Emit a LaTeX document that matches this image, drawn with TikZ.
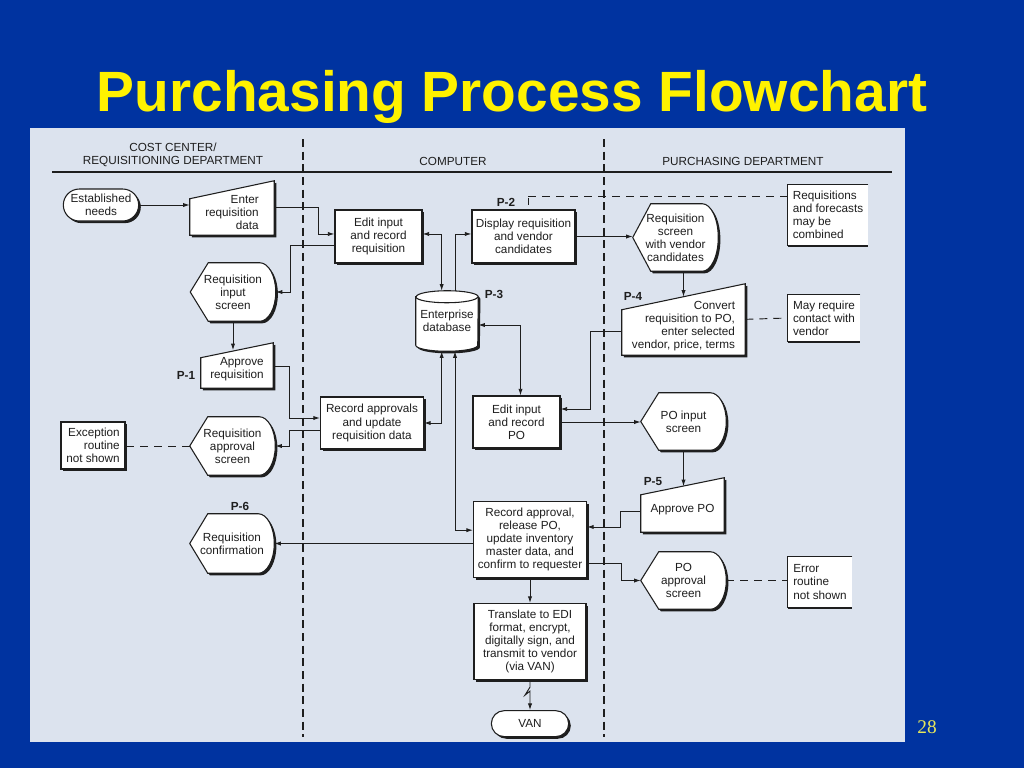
\documentclass[tikz,border=0pt]{standalone}
\usepackage{fontspec}
\setmainfont{Liberation Sans}
\newfontfamily\serifnum{Liberation Serif}
\usetikzlibrary{positioning, shapes, shapes.misc, arrows.meta, shadows, calc}

\definecolor{slideblue}{RGB}{0,51,160}
\definecolor{panelgray}{RGB}{220,227,238}
\definecolor{inkgray}{RGB}{30,30,30}
\definecolor{numyellow}{RGB}{232,232,90}

\pgfdeclarelayer{backdrop}
\pgfdeclarelayer{shapes}
\pgfsetlayers{backdrop,shapes,main}

\tikzset{
  sz/.style 2 args={minimum width=#1*0.75pt, minimum height=#2*0.75pt},
  boxshadow/.style={drop shadow={shadow xshift=1.6pt, shadow yshift=-1.6pt, fill=inkgray, opacity=1}},
  box/.style={draw=inkgray, line width=0.8pt, fill=white, boxshadow},
  txt/.style={text=inkgray, font=\fontsize{8.8}{9.8}\selectfont, inner sep=1pt},
  proc/.style={txt, box, rectangle, align=center},
  term/.style={txt, box, rounded rectangle, align=center},
  blank/.style={txt, rectangle, align=center},
  lbl/.style={text=inkgray, font=\fontsize{8.8}{9.8}\selectfont\bfseries, inner sep=0pt},
  arr/.style={draw=inkgray, line width=0.7pt, -{Latex[length=5pt,width=3.2pt]}},
  arrs/.style={draw=inkgray, line width=0.7pt, {Latex[length=5pt,width=3.2pt]}-{Latex[length=5pt,width=3.2pt]}},
  dashln/.style={draw=inkgray, line width=0.7pt, dash pattern=on 6pt off 4.5pt},
  lane/.style={draw=inkgray, line width=1.6pt, dash pattern=on 6pt off 3.5pt},
}

% manual input outline, #2 = half the rise of the top edge
\newcommand\maninshape[2]{%
  \draw[box] (#1.south west) -- (#1.south east) -- ([yshift=#2]#1.north east)
    -- ([yshift=-#2]#1.north west) -- cycle;}
% display outline, pointed left and rounded right
\newcommand\dispshape[1]{%
  \draw[box] (#1.west) -- ([xshift=13.5pt]#1.north west) -- ([xshift=-12pt]#1.north east)
    .. controls ([xshift=-5.4pt]#1.north east) and ($(#1.east)!0.55!(#1.north east)$) .. (#1.east)
    .. controls ($(#1.east)!0.55!(#1.south east)$) and ([xshift=-5.4pt]#1.south east) .. ([xshift=-12pt]#1.south east)
    -- ([xshift=13.5pt]#1.south west) -- cycle;}
% database drum
\newcommand\drumshape[1]{%
  \draw[box] ([yshift=-4.5pt]#1.north west) -- ([yshift=4.5pt]#1.south west)
    arc[start angle=180, end angle=360, x radius=23.25pt, y radius=4.5pt]
    -- ([yshift=-4.5pt]#1.north east)
    arc[start angle=0, end angle=180, x radius=23.25pt, y radius=4.5pt] -- cycle;
  \draw[draw=inkgray, line width=0.8pt] ([yshift=-4.5pt]#1.north west)
    arc[start angle=180, end angle=360, x radius=23.25pt, y radius=4.5pt];}
% annotation bracket, open on the right
\newcommand\annoshape[1]{%
  \fill[white] (#1.north west) rectangle (#1.south east);
  \draw[draw=inkgray, line width=0.8pt] (#1.north east) -- (#1.north west) -- (#1.south west) -- (#1.south east);
  \draw[draw=inkgray, line width=1.6pt] ([yshift=-0.8pt]#1.south west) -- ([yshift=-0.8pt]#1.south east);}

\begin{document}
\begin{tikzpicture}[x=0.75pt, y=-0.75pt]
    \useasboundingbox (0,0) rectangle (1024,768);

    % Slide and panel
    \begin{pgfonlayer}{backdrop}
        \fill[slideblue] (0,0) rectangle (1024,768);
        \fill[panelgray] (30,128) rectangle (905,742);
    \end{pgfonlayer}

    % Title and slide number
    \node (title) [anchor=base, text=yellow, inner sep=0pt, font=\fontsize{42.6}{50}\selectfont\bfseries] at (512,111) {Purchasing Process Flowchart};
    \node (pnum) [anchor=base, text=numyellow, inner sep=0pt, font=\serifnum\fontsize{14.5}{17}\selectfont] at (927,733) {28};

    % Lane headings and lane lines
    \node (hcost) [blank] at (173,154.5) {COST CENTER/\\REQUISITIONING DEPARTMENT};
    \node (hcomp) [blank] at (453,161) {COMPUTER};
    \node (hpur) [blank] at (743,161) {PURCHASING DEPARTMENT};
    \coordinate (rulel) at (52,172);
    \coordinate (ruler) at (892,172);
    \coordinate (lanea) at (303,139);
    \coordinate (laneb) at (604,139);
    \draw[draw=inkgray, line width=0.8pt] (rulel) -- (ruler);
    \draw[lane] (lanea) -- ++(0,598);
    \draw[lane] (laneb) -- ++(0,598);

    % Cost center lane
    \node (need) [term, sz={78}{32}] at (101,205) {Established\\needs};
    \node (enter) [blank, sz={84}{45}, align=right] at (232,212.5) {Enter\\requisition\\data};
    \node (dispin) [blank, sz={85}{58}] at (233,292) {Requisition\\input\\screen};
    \node (apprq) [blank, sz={72}{37.5}, align=right] at (237,369.25) {Approve\\requisition};
    \node (p1) [lbl] at (186,375) {P-1};
    \node (excp) [proc, sz={64}{47}, align=right] at (93,445.5) {Exception\\routine\\not shown};
    \node (dispappr) [blank, sz={85}{58}] at (232.5,446) {Requisition\\approval\\screen};
    \node (p6) [lbl] at (240,506) {P-6};
    \node (dispconf) [blank, sz={84}{59}] at (232,543.5) {Requisition\\confirmation};

    % Computer lane
    \node (editreq) [proc, sz={87}{53}] at (378.5,236.5) {Edit input\\and record\\requisition};
    \node (dispreq) [proc, sz={103}{53}] at (523.5,236.5) {Display requisition\\and vendor\\candidates};
    \node (p2) [lbl] at (506,202) {P-2};
    \node (db) [blank, sz={62}{60}] at (447,321) {Enterprise\\database};
    \node (p3) [lbl] at (494,294) {P-3};
    \node (recappr) [proc, sz={103}{52}] at (372,423) {Record approvals\\and update\\requisition data};
    \node (editpo) [proc, sz={87}{52}] at (516.5,422) {Edit input\\and record\\PO};
    \node (recpo) [proc, sz={113}{76}] at (530,539.5) {Record approval,\\release PO,\\update inventory\\master data, and\\confirm to requester};
    \node (edi) [proc, sz={112}{76}, below=18.75pt of recpo] {Translate to EDI\\format, encrypt,\\digitally sign, and\\transmit to vendor\\(via VAN)};
    \node (van) [term, sz={80}{26}, below=22.5pt of edi] {VAN};

    % Purchasing lane
    \node (dispvend) [blank, sz={85}{67}] at (675.5,237.5) {Requisition\\screen\\with vendor\\candidates};
    \node (annoreq) [blank, sz={80}{60}, align=left] at (828,215) {Requisitions\\and forecasts\\may be\\combined};
    \node (conv) [blank, sz={123}{58}, align=right] at (683.5,326) {Convert\\requisition to PO,\\enter selected\\vendor, price, terms};
    \node (p4) [lbl] at (633,296) {P-4};
    \node (annovend) [blank, sz={72}{46}, align=left] at (824,318) {May require\\contact with\\vendor};
    \node (poin) [blank, sz={85}{57}] at (683.5,421.5) {PO input\\screen};
    \node (apppo) [blank, sz={83}{45.5}] at (682.5,509.25) {Approve PO};
    \node (p5) [lbl] at (653,482) {P-5};
    \node (poappr) [blank, sz={85}{57}] at (683.5,580.5) {PO\\approval\\screen};
    \node (annoerr) [blank, sz={64}{50}, align=left] at (820,582) {Error\\routine\\not shown};

    % Outlines of the special symbols
    \begin{pgfonlayer}{shapes}
        \maninshape{enter}{6.75pt}
        \maninshape{apprq}{5.6pt}
        \maninshape{conv}{9.75pt}
        \maninshape{apppo}{6.4pt}
        \dispshape{dispin}
        \dispshape{dispappr}
        \dispshape{dispconf}
        \dispshape{dispvend}
        \dispshape{poin}
        \dispshape{poappr}
        \drumshape{db}
        \annoshape{annoreq}
        \annoshape{annovend}
        \annoshape{annoerr}
    \end{pgfonlayer}

    % Flow arrows
    \draw[arr] (need.east) -- (need.east -| enter.west);
    \draw[arr] ([yshift=4pt]enter.east) -- ++(44,0) |- ([yshift=1.9pt]editreq.west);
    \draw[arr] ([yshift=-6.4pt]editreq.west) -- ++(-44,0) |- (dispin.east);
    \draw[arr] (dispin.south) -- (dispin.south |- apprq.north);
    \draw[arr] ([yshift=2pt]apprq.east) -- ++(16,0) |- ([yshift=3.75pt]recappr.west);
    \draw[arr] ([yshift=-5.5pt]recappr.west) -- ++(-31,0) |- (dispappr.east);
    \draw[arrs] ([yshift=1.9pt]editreq.east) -| ([xshift=-4pt]db.north);
    \draw[arr] ([xshift=6pt]db.north) |- ([yshift=1.9pt]dispreq.west);
    \draw[arrs] ([yshift=-3pt]db.east) -| ([xshift=3pt]editpo.north);
    \draw[arrs] (recappr.east) -| ([xshift=-4pt]db.south);
    \draw[arrs] ([xshift=6pt]db.south) |- ([yshift=7pt]recpo.west);
    \draw[arr] (dispreq.east) -- (dispreq.east -| dispvend.west);
    \draw[arr] (conv.north |- dispvend.south) -- (conv.north);
    \draw[arr] ([yshift=-3.75pt]conv.west) -- ++(-31,0) |- ([yshift=9.75pt]editpo.east);
    \draw[arr] (editpo.east) -- (editpo.east -| poin.west);
    \draw[arr] (poin.south) -- (poin.south |- apppo.north);
    \draw[arr] ([yshift=-1.5pt]apppo.west) -- ++(-20,0) |- ([yshift=9.4pt]recpo.east);
    \draw[arr] ([yshift=-17.6pt]recpo.east) -- ++(34,0) |- (poappr.west);
    \draw[arr] (recpo.west |- dispconf.east) -- (dispconf.east);
    \draw[arr] (recpo.south) -- (edi.north);
    \draw[arr] (edi.south) -- ++(0,7) -- ++(-5,8) -- ++(5,-4) -- (van.north);

    % Annotation links
    \coordinate (p2mark) at (528,196);
    \draw[dashln] (p2mark) -- (p2mark -| annoreq.west);
    \draw[draw=inkgray, line width=0.7pt] ([yshift=-1.5pt]p2mark) -- ([yshift=-6.75pt]p2mark);
    \draw[dashln] ([yshift=5pt]conv.east) -- (annovend.west);
    \draw[dashln] (dispappr.west) -- (dispappr.west -| excp.east);
    \draw[dashln] (poappr.east) -- (poappr.east -| annoerr.west);

\end{tikzpicture}
\end{document}
